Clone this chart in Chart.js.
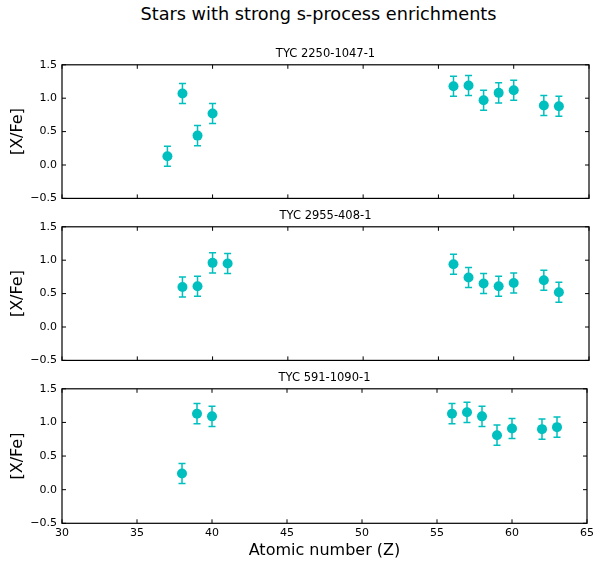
<!DOCTYPE html>
<html>
<head>
<meta charset="utf-8">
<script src="https://cdn.jsdelivr.net/npm/chart.js@4"></script>
<style>
body { margin: 0; background: #fff; width: 597px; height: 567px; position: relative; overflow: hidden; font-family: 'DejaVu Sans', sans-serif; }
.panel { position: absolute; left: 0; width: 597px; }
#title { position: absolute; top: 5px; left: 20px; width: 597px; text-align: center; font-size: 17.7px; line-height: 18px; color: #000; }
</style>
</head>
<body>
<div id="title">Stars with strong s-process enrichments</div>
<div class="panel" style="top:40px"><canvas id="c1" width="597" height="170"></canvas></div>
<div class="panel" style="top:201.5px"><canvas id="c2" width="597" height="170"></canvas></div>
<div class="panel" style="top:364px"><canvas id="c3" width="597" height="203"></canvas></div>
<script>
// star names
const starNames = ['TYC 2250-1047-1', 'TYC 2955-408-1', 'TYC 591-1090-1'];

// atomic numbers measured for each star
const z1 = [37, 38, 39, 40, 56, 57, 58, 59, 60, 62, 63];
const z2 = [38, 39, 40, 41, 56, 57, 58, 59, 60, 62, 63];
const z3 = [38, 39, 40, 56, 57, 58, 59, 60, 62, 63];

// [X/Fe] values
const xfe1 = [0.13, 1.07, 0.44, 0.77, 1.18, 1.19, 0.97, 1.08, 1.12, 0.89, 0.88];
const xfe2 = [0.60, 0.61, 0.96, 0.95, 0.94, 0.74, 0.65, 0.61, 0.66, 0.70, 0.52];
const xfe3 = [0.24, 1.13, 1.09, 1.13, 1.15, 1.09, 0.81, 0.91, 0.90, 0.93];

// uncertainties
const err1 = [0.15, 0.15, 0.15, 0.15, 0.15, 0.15, 0.15, 0.15, 0.15, 0.15, 0.15];
const err2 = [0.15, 0.15, 0.15, 0.15, 0.15, 0.15, 0.15, 0.15, 0.15, 0.15, 0.15];
const err3 = [0.15, 0.15, 0.15, 0.15, 0.15, 0.15, 0.15, 0.15, 0.15, 0.15];

const FONT = 'DejaVu Sans';
const COLOR = '#00bfbf';
Chart.defaults.font.family = FONT;
Chart.defaults.color = '#000';

// error bars + box frame with inward ticks
const frameAndErrors = {
    id: 'frameAndErrors',
    beforeDatasetsDraw(chart, args, opts) {
        const xs = chart.scales.x, ys = chart.scales.y, ctx = chart.ctx;
        const ds = chart.data.datasets[0];
        ctx.save();
        ctx.strokeStyle = COLOR;
        ctx.lineWidth = 1.5;
        ds.data.forEach((p, i) => {
            const e = opts.err[i];
            const px = xs.getPixelForValue(p.x);
            const y1 = ys.getPixelForValue(p.y + e);
            const y2 = ys.getPixelForValue(p.y - e);
            ctx.beginPath();
            ctx.moveTo(px, y1); ctx.lineTo(px, y2);
            ctx.moveTo(px - 3.5, y1); ctx.lineTo(px + 3.5, y1);
            ctx.moveTo(px - 3.5, y2); ctx.lineTo(px + 3.5, y2);
            ctx.stroke();
        });
        ctx.restore();
    },
    afterDraw(chart) {
        const {ctx, chartArea: a} = chart;
        const xs = chart.scales.x, ys = chart.scales.y;
        ctx.save();
        ctx.strokeStyle = '#000';
        ctx.lineWidth = 1.2;
        ctx.strokeRect(a.left, a.top, a.right - a.left, a.bottom - a.top);
        ctx.lineWidth = 1;
        ctx.beginPath();
        xs.ticks.forEach(t => {
            const px = xs.getPixelForValue(t.value);
            ctx.moveTo(px, a.top); ctx.lineTo(px, a.top + 4);
            ctx.moveTo(px, a.bottom); ctx.lineTo(px, a.bottom - 4);
        });
        ys.ticks.forEach(t => {
            const py = ys.getPixelForValue(t.value);
            ctx.moveTo(a.left, py); ctx.lineTo(a.left + 4, py);
            ctx.moveTo(a.right, py); ctx.lineTo(a.right - 4, py);
        });
        ctx.stroke();
        ctx.restore();
    }
};

function makePanel(id, name, zs, vals, errs, isBottom) {
    return new Chart(document.getElementById(id), {
        type: 'scatter',
        data: {
            datasets: [{
                data: zs.map((z, i) => ({x: z, y: vals[i]})),
                backgroundColor: COLOR,
                borderWidth: 0,
                pointRadius: 5,
                pointHoverRadius: 5
            }]
        },
        options: {
            responsive: false,
            animation: false,
            layout: { padding: { top: 7, left: 0, right: 8, bottom: 0 } },
            plugins: {
                legend: { display: false },
                tooltip: { enabled: false },
                title: {
                    display: true,
                    fullSize: false,
                    text: name,
                    color: '#000',
                    font: { family: FONT, size: 11.5, weight: 'normal' },
                    padding: { top: 0, bottom: 4 }
                },
                frameAndErrors: { err: errs }
            },
            scales: {
                x: {
                    type: 'linear',
                    min: 30,
                    max: 65,
                    grid: { display: false, drawTicks: false },
                    border: { display: false },
                    ticks: {
                        display: isBottom,
                        stepSize: 5,
                        maxRotation: 0,
                        padding: 3,
                        color: '#000',
                        font: { family: FONT, size: 11 }
                    },
                    title: {
                        display: isBottom,
                        text: 'Atomic number (Z)',
                        color: '#000',
                        font: { family: FONT, size: 16 },
                        padding: { top: 0, bottom: 7 }
                    },
                    afterFit: s => { s.height = isBottom ? 43.7 : 10.7; }
                },
                y: {
                    min: -0.5,
                    max: 1.5,
                    grid: { display: false, drawTicks: false },
                    border: { display: false },
                    ticks: {
                        stepSize: 0.5,
                        padding: 5,
                        color: '#000',
                        font: { family: FONT, size: 11 },
                        callback: v => v.toFixed(1).replace('-', '\u2212')
                    },
                    title: {
                        display: true,
                        text: '[X/Fe]',
                        color: '#000',
                        font: { family: FONT, size: 16 },
                        padding: { top: 8, bottom: 0 }
                    },
                    afterFit: s => { s.width = 62; }
                }
            }
        },
        plugins: [frameAndErrors]
    });
}

makePanel('c1', starNames[0], z1, xfe1, err1, false);
makePanel('c2', starNames[1], z2, xfe2, err2, false);
makePanel('c3', starNames[2], z3, xfe3, err3, true);
</script>
</body>
</html>
